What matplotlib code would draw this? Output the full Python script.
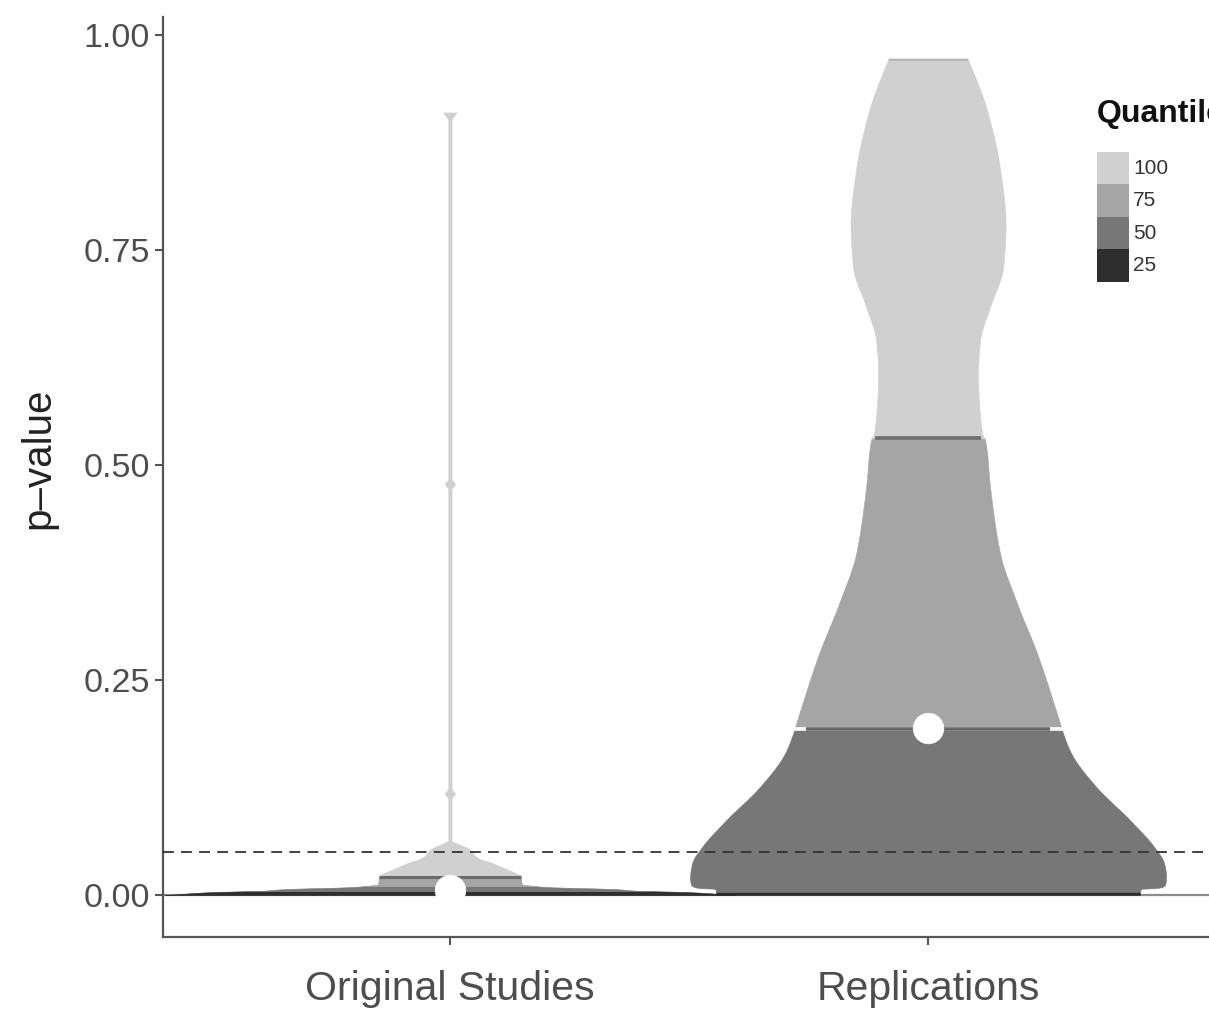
import numpy as np
import matplotlib
matplotlib.use("Agg")
import matplotlib.pyplot as plt
from matplotlib.patches import Rectangle

plt.rcParams['font.family'] = ['Liberation Sans', 'DejaVu Sans']

# ---------------- data ----------------
categories = ["Original Studies", "Replications"]
y_ticks = [0.00, 0.25, 0.50, 0.75, 1.00]
y_tick_labels = ["0.00", "0.25", "0.50", "0.75", "1.00"]
quantile_names = ["25", "50", "75", "100"]
legend_title = "Quantile"
alpha_line = 0.05

# violin outlines: p-value grid and (relative) density half-widths
orig_p = [0.000, 0.0005, 0.0035, 0.005, 0.007, 0.0095, 0.0115, 0.0125, 0.021,
          0.0235, 0.0256, 0.029, 0.033, 0.0387, 0.042, 0.047, 0.052, 0.055,
          0.058, 0.061, 0.063, 0.112, 0.118, 0.124, 0.472, 0.478, 0.484,
          0.900, 0.910]
orig_density = [285, 279, 238, 189, 165, 95, 78, 72, 71,
                70, 66, 59, 51, 39, 30, 24, 21, 17,
                11, 5, 1.6, 1.6, 5, 1.6, 1.6, 5, 1.6,
                1.6, 6.5]

repl_p = [0.000, 0.004, 0.0075, 0.008, 0.0095, 0.012, 0.021, 0.037, 0.056,
          0.087, 0.126, 0.165, 0.188, 0.203, 0.281, 0.339, 0.397, 0.474,
          0.529, 0.537, 0.607, 0.645, 0.684, 0.730, 0.780, 0.840, 0.916, 0.973]
repl_density = [212, 212, 214, 226, 234, 237, 238, 236, 226,
                202, 168, 143, 135, 131, 109, 89, 72, 62,
                57, 54, 50, 52, 62, 75, 77.5, 72.5, 58, 39.5]

# quantiles 25 / 50 / 75 / 100
orig_quantiles = [0.0045, 0.0105, 0.021, 0.910]
repl_quantiles = [0.004, 0.193, 0.531, 0.973]
medians = [0.0058, 0.194]

band_colors = {"25": "#2e2e2e", "50": "#777777", "75": "#a5a5a5", "100": "#d0d0d0"}

# ---------------- figure ----------------
W, H = 1209, 1010
fig = plt.figure(figsize=(W / 100, H / 100), dpi=100)
ax_left, ax_right, ax_top, ax_bottom = 163, 1215, 17, 937
ax = fig.add_axes([ax_left / W, (H - ax_bottom) / H,
                   (ax_right - ax_left) / W, (ax_bottom - ax_top) / H])
ax.set_xlim(0.4, 2.6)
ax.set_ylim(-0.0487, 1.021)
px_per_unit = (ax_right - ax_left) / 2.2
scale = 1.0 / px_per_unit

ax.axhline(0, color="#8c8c8c", lw=1.6, zorder=1)


def smooth_outline(x, y, xq):
    """Monotone cubic (PCHIP) rendering of the outline through the read points."""
    x = np.asarray(x, float)
    y = np.asarray(y, float)
    h = np.diff(x)
    delta = np.diff(y) / h
    m = np.zeros_like(y)
    m[0], m[-1] = delta[0], delta[-1]
    for k in range(1, len(x) - 1):
        if delta[k - 1] * delta[k] <= 0:
            m[k] = 0.0
        else:
            w1 = 2 * h[k] + h[k - 1]
            w2 = h[k] + 2 * h[k - 1]
            m[k] = (w1 + w2) / (w1 / delta[k - 1] + w2 / delta[k])
    idx = np.clip(np.searchsorted(x, xq) - 1, 0, len(x) - 2)
    t = (xq - x[idx]) / h[idx]
    h00 = 2 * t ** 3 - 3 * t ** 2 + 1
    h10 = t ** 3 - 2 * t ** 2 + t
    h01 = -2 * t ** 3 + 3 * t ** 2
    h11 = t ** 3 - t ** 2
    return (h00 * y[idx] + h10 * h[idx] * m[idx] + h01 * y[idx + 1]
            + h11 * h[idx] * m[idx + 1])


def draw_violin(xc, p, dens, qs):
    p = np.asarray(p, float)
    d = np.asarray(dens, float) * scale
    bounds = [p[0]] + list(qs)
    for i, name in enumerate(quantile_names):
        lo, hi = bounds[i], bounds[i + 1]
        yy = np.unique(np.concatenate([np.linspace(lo, hi, 400),
                                       p[(p > lo) & (p < hi)]]))
        ww = np.maximum(smooth_outline(p, d, yy), 0)
        ax.fill_betweenx(yy, xc - ww, xc + ww, color=band_colors[name],
                         lw=0.4, edgecolor=band_colors[name], zorder=2)
    return p, d


xs = [1, 2]
p1, d1 = draw_violin(xs[0], orig_p, orig_density, orig_quantiles)
p2, d2 = draw_violin(xs[1], repl_p, repl_density, repl_quantiles)


def width_at(p, d, q):
    return float(smooth_outline(p, d, np.array([q]))[0])


# quantile lines
w = width_at(p1, d1, orig_quantiles[2])
ax.plot([xs[0] - w, xs[0] + w], [orig_quantiles[2]] * 2, color="#6a6a6a",
        lw=2.2, solid_capstyle="butt", zorder=3)
w = width_at(p2, d2, repl_quantiles[1])
ax.plot([xs[1] - w - 2 * scale, xs[1] + w + 2 * scale], [repl_quantiles[1]] * 2,
        color="white", lw=2.6, solid_capstyle="butt", zorder=3)
ax.plot([xs[1] - w + 12 * scale, xs[1] + w - 12 * scale], [repl_quantiles[1]] * 2,
        color="#6a6a6a", lw=2.6, solid_capstyle="butt", zorder=3)
w = width_at(p2, d2, repl_quantiles[2])
ax.plot([xs[1] - w + 3 * scale, xs[1] + w - 3 * scale], [repl_quantiles[2]] * 2,
        color="#6e6e6e", lw=2.6, solid_capstyle="butt", zorder=3)
w = width_at(p2, d2, repl_quantiles[3])
ax.plot([xs[1] - w, xs[1] + w], [repl_quantiles[3] - 0.002] * 2,
        color="#b4b4b4", lw=1.2, solid_capstyle="butt", zorder=3)

# median dots
ax.plot(xs, medians, "o", ms=22, mfc="white", mec="white", mew=0.5, zorder=5)

# significance threshold
ax.axhline(alpha_line, color="#333333", lw=1.3, dashes=(6, 4), zorder=4)

# axes styling
for s in ["top", "right"]:
    ax.spines[s].set_visible(False)
for s in ["left", "bottom"]:
    ax.spines[s].set_color("#555555")
    ax.spines[s].set_linewidth(1.6)
ax.set_yticks(y_ticks)
ax.set_yticklabels(y_tick_labels)
ax.set_xticks(xs)
ax.set_xticklabels(categories)
ax.tick_params(axis="y", length=5.5, width=1.5, color="#555555", pad=4,
               labelsize=24.5, labelcolor="#4d4d4d")
ax.tick_params(axis="x", length=5.5, width=1.5, color="#555555", pad=18,
               labelsize=29.5, labelcolor="#4d4d4d")
ax.set_ylabel("p\u2013value", fontsize=29, color="#222222")
ax.yaxis.set_label_coords((57 - ax_left) / (ax_right - ax_left),
                          (ax_bottom - 458) / (ax_bottom - ax_top))

# legend (the figure edge cuts it, as in the reference)
fig.text(1097 / W, (H - 122) / H, legend_title, fontsize=23, fontweight="bold",
         color="#111111", ha="left", va="baseline")
box_top = 152
box_h = 32.5
legend_order = ["100", "75", "50", "25"]
for i, name in enumerate(legend_order):
    y0 = box_top + i * box_h
    fig.patches.append(Rectangle((1097 / W, (H - y0 - box_h) / H), 32 / W, box_h / H,
                                 transform=fig.transFigure, facecolor=band_colors[name],
                                 edgecolor="none", zorder=3))
    fig.text(1133 / W, (H - y0 - box_h / 2) / H, name, fontsize=15,
             color="#333333", ha="left", va="center")

fig.savefig("out.png", dpi=100)
